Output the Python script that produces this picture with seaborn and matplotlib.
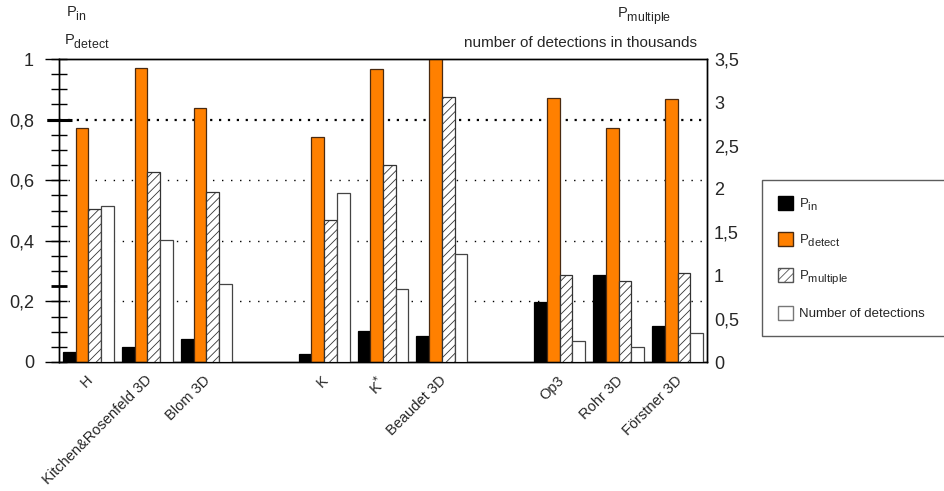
import matplotlib
matplotlib.use("Agg")
import matplotlib.pyplot as plt
import matplotlib._mathtext as mathtext_impl
from matplotlib.patches import Patch
from matplotlib.transforms import ScaledTranslation
import numpy as np
import pandas as pd
import seaborn as sns

# --- data -------------------------------------------------------------
methods = ["H", "Kitchen&Rosenfeld 3D", "Blom 3D",
           "K", "K*", "Beaudet 3D",
           "Op3", "Rohr 3D", "Förstner 3D"]
method_labels = ["H", "Kitchen&Rosenfeld 3D", "Blom 3D",
                 "K", r"K$^{*}$", "Beaudet 3D",
                 "Op3", "Rohr 3D", "Förstner 3D"]
# probabilities (left axis)
p_in = [0.033, 0.050, 0.075, 0.025, 0.101, 0.086, 0.199, 0.287, 0.118]
p_detect = [0.772, 0.970, 0.839, 0.742, 0.966, 1.000, 0.870, 0.773, 0.869]
# right axis: P_multiple and number of detections in thousands
p_multiple = [1.77, 2.19, 1.96, 1.64, 2.28, 3.06, 1.00, 0.94, 1.03]
detections = [1.80, 1.41, 0.905, 1.95, 0.843, 1.244, 0.239, 0.170, 0.335]

left_ticks = [0, 0.2, 0.4, 0.6, 0.8, 1.0]
left_ticklabels = ["0", "0,2", "0,4", "0,6", "0,8", "1"]
right_ticks = [0, 0.5, 1, 1.5, 2, 2.5, 3, 3.5]
right_ticklabels = ["0", "0,5", "1", "1,5", "2", "2,5", "3", "3,5"]

series = ["P_in", "P_detect", "P_multiple", "Number of detections"]
legend_labels = [r"P$_{in}$", r"P$_{detect}$", r"P$_{multiple}$", "Number of detections"]

# category order with two empty slots separating the three method families
order = methods[:3] + [" "] + methods[3:6] + ["  "] + methods[6:]
tick_text = method_labels[:3] + [""] + method_labels[3:6] + [""] + method_labels[6:]

df = pd.DataFrame({
    "method": methods * 4,
    "series": np.repeat(series, len(methods)),
    "value": p_in + p_detect + p_multiple + detections,
})

# --- style ------------------------------------------------------------
sns.set_theme(style="white")
plt.rcParams["font.family"] = ["Liberation Sans", "DejaVu Sans"]
plt.rcParams["mathtext.default"] = "regular"
plt.rcParams["hatch.linewidth"] = 0.6
plt.rcParams["hatch.color"] = "#222222"
# larger, lower subscripts for the P_x labels
mathtext_impl.SHRINK_FACTOR = 0.85
mathtext_impl.FontConstantsBase.sub1 = 0.55
mathtext_impl.FontConstantsBase.sub2 = 0.7

W, H = 945, 491
fig = plt.figure(figsize=(W / 100, H / 100), dpi=100)
ax = fig.add_axes([59 / W, 1 - 362 / H, (707 - 59) / W, (362 - 59) / H])
ax2 = ax.twinx()

styles = {
    "P_in": dict(color="#000000", edgecolor="#000000", hatch=None, axis=ax),
    "P_detect": dict(color="#FF8000", edgecolor="#4a2a10", hatch=None, axis=ax),
    "P_multiple": dict(color="#FFFFFF", edgecolor="#333333", hatch="////", axis=ax2),
    "Number of detections": dict(color="#FFFFFF", edgecolor="#444444", hatch=None, axis=ax2),
}
palette = {s: styles[s]["color"] for s in series}

for s in series:
    st = styles[s]
    sns.barplot(data=df[df["series"] == s], x="method", y="value",
                hue="series", hue_order=series, order=order, palette=palette,
                dodge=True, saturation=1, width=0.864, gap=0,
                edgecolor=st["edgecolor"], linewidth=0.9,
                hatch=st["hatch"], legend=False, ax=st["axis"], zorder=3)

# --- axes -------------------------------------------------------------
ax.set_xlim(-0.5, len(order) - 0.5)
ax.set_ylim(0, 1)
ax2.set_ylim(0, 3.5)
for a in (ax, ax2):
    a.set_xlabel("")
    a.set_ylabel("")
    for sp in a.spines.values():
        sp.set_color("black")
        sp.set_linewidth(1.0)

# dotted reference lines behind the bars
for y in (0.2, 0.4, 0.6):
    ax.axhline(y, color="black", lw=1.0, linestyle=(0, (1, 5.5)), zorder=0)
ax.axhline(0.8, color="black", lw=1.6, linestyle=(0, (1, 3.0)), zorder=0)

ax.set_xticks(range(len(order)))
ax.set_xticklabels(tick_text, rotation=45, ha="right", fontsize=10.5)
ax.tick_params(axis="x", length=0, pad=8)
shift = ScaledTranslation(7 / 100, 0, fig.dpi_scale_trans)
for lbl in ax.get_xticklabels():
    lbl.set_transform(lbl.get_transform() + shift)

ax.set_yticks(left_ticks)
ax.set_yticklabels(left_ticklabels, fontsize=13)
ax.set_yticks(np.arange(0, 1.0001, 0.05), minor=True)
ax.yaxis.remove_overlapping_locs = False
ax.tick_params(axis="y", which="major", direction="out", length=10, width=1.0,
               color="black", pad=8, left=True)
ax.tick_params(axis="y", which="minor", direction="inout", length=11, width=1.0,
               color="black", left=True)

# emphasised marks at 0,8 and 0,25
for t, loc in zip(ax.yaxis.get_major_ticks(), ax.yaxis.get_majorticklocs()):
    if abs(loc - 0.8) < 1e-6:
        t.tick1line.set_markeredgewidth(2.2)
        t.tick1line.set_markersize(9)
for t, loc in zip(ax.yaxis.get_minor_ticks(), ax.yaxis.get_minorticklocs()):
    if abs(loc - 0.8) < 1e-6:
        t.tick1line.set_markeredgewidth(2.2)
        t.tick1line.set_markersize(18)
    if abs(loc - 0.25) < 1e-6:
        t.tick1line.set_markeredgewidth(2.0)

ax2.set_yticks(right_ticks)
ax2.set_yticklabels(right_ticklabels, fontsize=13)
ax2.tick_params(axis="y", which="both", length=0, pad=5, right=True)
ax2.grid(False)
ax.grid(False)

# --- axis titles ------------------------------------------------------
def px(x, y):
    return x / W, 1 - y / H

fig.text(*px(66, 17), r"P$_{in}$", fontsize=10.5, va="baseline", ha="left")
fig.text(*px(64, 45), r"P$_{detect}$", fontsize=10.5, va="baseline", ha="left")
fig.text(*px(617, 18), r"P$_{multiple}$", fontsize=10.5, va="baseline", ha="left")
fig.text(*px(697, 47), "number of detections in thousands", fontsize=11,
         va="baseline", ha="right")

# --- legend -----------------------------------------------------------
handles = [
    Patch(facecolor="#000000", edgecolor="#000000"),
    Patch(facecolor="#FF8000", edgecolor="#4a2a10"),
    Patch(facecolor="#FFFFFF", edgecolor="#555555", hatch="////"),
    Patch(facecolor="#FFFFFF", edgecolor="#777777"),
]
leg = fig.legend(handles, legend_labels, loc="upper left",
                 bbox_to_anchor=(762 / W, 1 - 335 / H, 0.25, (335 - 180) / H),
                 mode="expand", frameon=True, fancybox=False, fontsize=9.5,
                 handlelength=1.15, handleheight=1.3, handletextpad=0.45,
                 labelspacing=1.4, borderpad=1.2, borderaxespad=0)
leg.get_frame().set_edgecolor("#333333")
leg.get_frame().set_linewidth(1.0)

fig.savefig("out.png", dpi=100)
